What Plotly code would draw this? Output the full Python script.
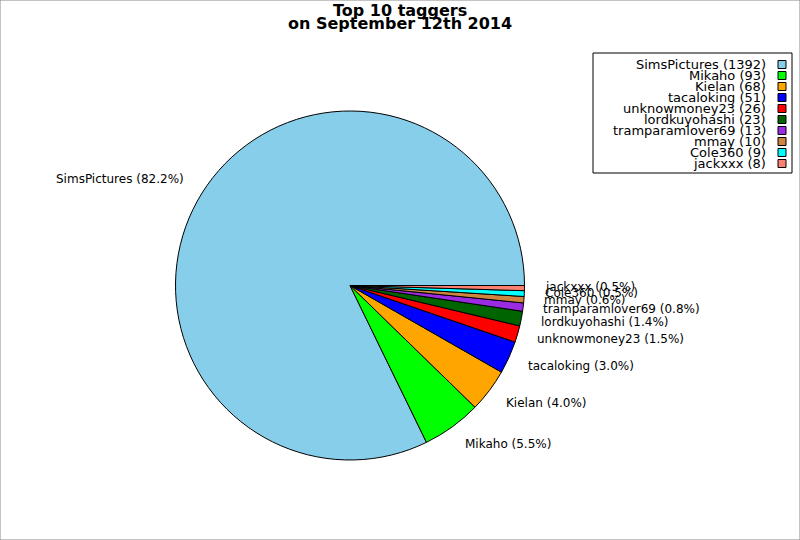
import numpy as np
import plotly.graph_objects as go

names = ['SimsPictures', 'Mikaho', 'Kielan', 'tacaloking', 'unknowmoney23',
         'lordkuyohashi', 'tramparamlover69', 'mmay', 'Cole360', 'jackxxx']
counts = [1392, 93, 68, 51, 26, 23, 13, 10, 9, 8]
colors = ['#87CEEB', '#00FF00', '#FFA500', '#0000FF', '#FF0000',
          '#006400', '#9B2BE2', '#CD853F', '#00FFFF', '#FA8072']

W, H = 800, 540
cx, cy, r = 350, 285.5, 174.5  # pie centre / radius in px (from top-left)

total = sum(counts)
# plotly's counterclockwise pies end the first slice at `rotation`,
# so shift it to make the first slice start at 3 o'clock like matplotlib
rot = 90 - 360 * counts[0] / total

fig = go.Figure()
fig.add_trace(go.Pie(
    labels=names, values=counts, sort=False,
    direction='counterclockwise', rotation=rot,
    marker=dict(colors=colors, line=dict(color='black', width=1)),
    textinfo='none', hoverinfo='label+value+percent', showlegend=False,
    domain=dict(x=[(cx - r) / W, (cx + r) / W],
                y=[(H - cy - r) / H, (H - cy + r) / H]),
))

# slice labels just outside the rim (a bit more spread vertically, as in the original)
annotations = []
start = 0.0
for name, c in zip(names, counts):
    frac = c / total
    mid = 2 * np.pi * (start + frac / 2)
    start += frac
    px = cx + 1.105 * r * np.cos(mid)
    py = 284 - 1.135 * r * np.sin(mid)
    annotations.append(dict(
        x=px / W, y=1 - py / H, xref='paper', yref='paper',
        text=f'{name} ({frac * 100:.1f}%)', showarrow=False,
        xanchor='left' if np.cos(mid) >= 0 else 'right', yanchor='middle',
        font=dict(size=12, color='black')))

# title as two centred bold lines
for line, yy in [('Top 10 taggers', 10.5), ('on September 12th 2014', 24)]:
    annotations.append(dict(
        x=0.5, y=1 - yy / H, xref='paper', yref='paper', text=f'<b>{line}</b>',
        showarrow=False, xanchor='center', yanchor='middle',
        font=dict(size=16, color='black')))

# legend drawn by hand: text right-aligned, box on the right
shapes = [
    dict(type='rect', xref='paper', yref='paper', x0=0, x1=1, y0=0, y1=1,
         line=dict(color='#888888', width=1)),
    dict(type='rect', xref='paper', yref='paper',
         x0=593 / W, x1=792 / W, y0=1 - 53 / H, y1=1 - 173 / H,
         line=dict(color='black', width=1), fillcolor='white'),
]
row_y0, row_dy = 64.5, 11.0
for i, (name, c, col) in enumerate(zip(names, counts, colors)):
    yy = row_y0 + i * row_dy
    annotations.append(dict(
        x=768 / W, y=1 - yy / H, xref='paper', yref='paper',
        text=f'{name} ({c})', showarrow=False, xanchor='right', yanchor='middle',
        font=dict(size=13, color='black')))
    shapes.append(dict(
        type='rect', xref='paper', yref='paper',
        x0=778 / W, x1=786 / W, y0=1 - (yy - 4) / H, y1=1 - (yy + 4) / H,
        line=dict(color='black', width=1), fillcolor=col))

fig.update_layout(
    width=W, height=H,
    margin=dict(l=0, r=0, t=0, b=0),
    paper_bgcolor='white',
    font=dict(family='DejaVu Sans', color='black'),
    annotations=annotations, shapes=shapes,
)

fig.write_html('out.html', config={'displayModeBar': False},
               post_script="document.body.style.margin='0';")
